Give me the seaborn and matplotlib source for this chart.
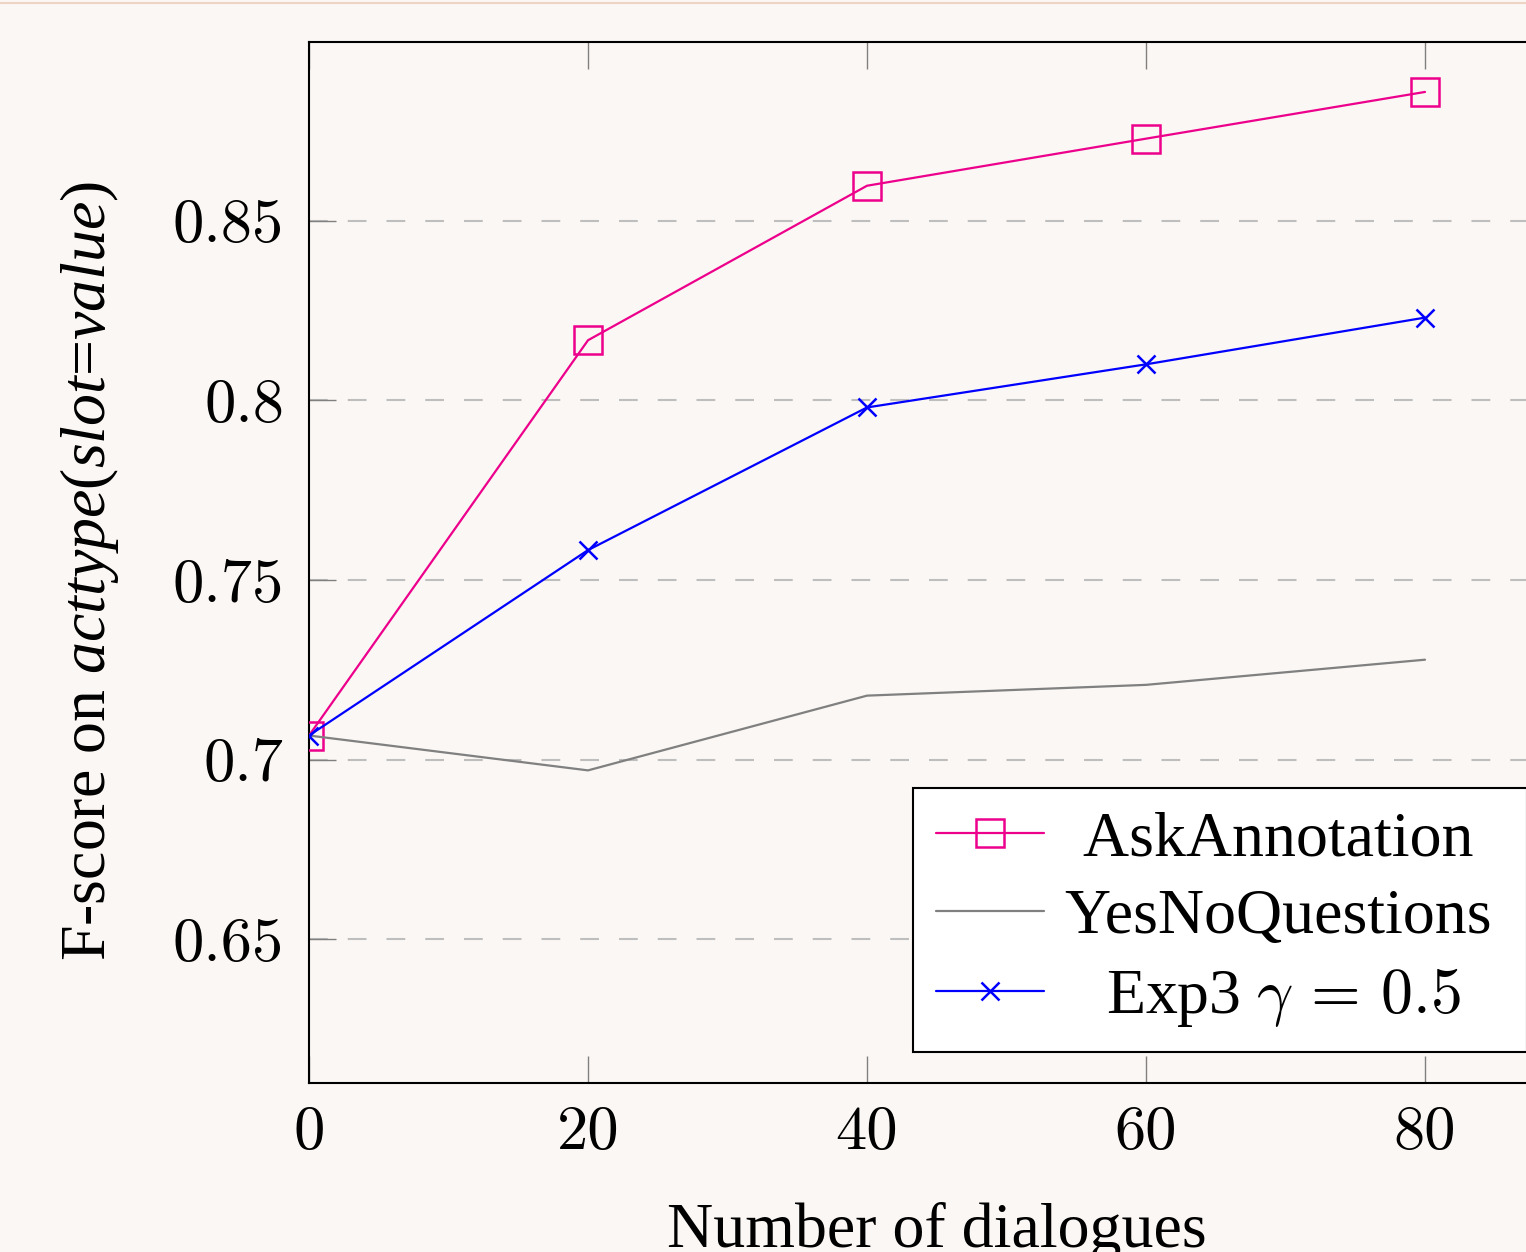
import numpy as np
import pandas as pd
import seaborn as sns
import matplotlib.pyplot as plt
from matplotlib.lines import Line2D
from matplotlib.ticker import FuncFormatter

# data
dialogues = [0, 20, 40, 60, 80]
ask_annotation = [0.7067, 0.8167, 0.8597, 0.8728, 0.8858]
yes_no_questions = [0.7067, 0.6970, 0.7178, 0.7208, 0.7278]
exp3 = [0.7067, 0.7583, 0.7980, 0.8100, 0.8230]

x_ticks = [0, 20, 40, 60, 80]
y_ticks = [0.65, 0.7, 0.75, 0.8, 0.85]

series_names = ["AskAnnotation", "YesNoQuestions", r"Exp3 $\gamma\,=\,0.5$"]
series_values = [ask_annotation, yes_no_questions, exp3]
series_colors = ["#EC008C", "#808080", "#0000FF"]
series_markers = ["s", None, "x"]

BG = "#FBF7F4"

sns.set_style("ticks")
plt.rcParams["font.family"] = ["Liberation Serif"]
plt.rcParams["mathtext.fontset"] = "custom"
plt.rcParams["mathtext.rm"] = "Liberation Serif"
plt.rcParams["mathtext.it"] = "Liberation Serif:italic"
plt.rcParams["axes.unicode_minus"] = False
for key in ["text.color", "axes.labelcolor", "xtick.labelcolor", "ytick.labelcolor"]:
    plt.rcParams[key] = "black"

fig = plt.figure(figsize=(15.26, 12.52), dpi=100, facecolor=BG)
ax = fig.add_axes([309 / 1526, 1 - 1083 / 1252, 1255.5 / 1526, 1041 / 1252])
ax.set_facecolor(BG)

for name, vals, col, mk in zip(series_names, series_values, series_colors, series_markers):
    df = pd.DataFrame({"x": dialogues, "y": vals})
    kw = {}
    if mk == "s":
        kw = dict(marker="s", markersize=19.5, markerfacecolor="none",
                  markeredgecolor=col, markeredgewidth=1.8)
    elif mk == "x":
        kw = dict(marker="x", markersize=13.5, markeredgewidth=1.8, markeredgecolor=col)
    # trailing thin space gives the legend a bit more room on the right
    sns.lineplot(data=df, x="x", y="y", ax=ax, color=col, linewidth=1.6,
                 label=name + "\u2009", zorder=3, **kw)

ax.set_xlim(0, 90)
ax.set_ylim(0.61, 0.8997)
ax.set_xticks(x_ticks)
ax.set_yticks(y_ticks)
ax.xaxis.set_major_formatter(FuncFormatter(lambda v, p: f"{v:g}"))
ax.yaxis.set_major_formatter(FuncFormatter(lambda v, p: f"{v:g}"))
ax.tick_params(axis="both", direction="in", length=19.5, width=1.0,
               color="#808080", labelsize=45, top=True, right=True)
ax.tick_params(axis="y", pad=18)
ax.tick_params(axis="x", pad=16)
for lab in ax.get_xticklabels() + ax.get_yticklabels():
    lab.set_fontfamily("cmr10")

ax.yaxis.grid(True, color="#BEBEBE", linewidth=1.5, linestyle=(0, (9, 9.6)))
ax.xaxis.grid(False)
for sp in ax.spines.values():
    sp.set_color("black")
    sp.set_linewidth(1.5)

ax.set_xlabel("Number of dialogues", fontsize=46, labelpad=30)
ax.set_ylabel(r"F-score on $\mathit{acttype(slot}$=$\mathit{value)}$", fontsize=46, labelpad=37)
ax.yaxis.label.set_y(0.5 - 8 / 1041)

leg = ax.legend(loc="lower right", bbox_to_anchor=(0.97, 0.03), borderaxespad=0,
                fontsize=46, frameon=True, fancybox=False, framealpha=1,
                facecolor="white", edgecolor="black", handlelength=1.7,
                handletextpad=0.33, labelspacing=0.3, borderpad=0.35)
leg.get_frame().set_linewidth(1.5)
for t in leg.get_texts():
    t.set_math_fontfamily("cm")

# center legend labels in their column like pgfplots does
fig.canvas.draw()
texts = leg.get_texts()
widths = [t.get_window_extent().width for t in texts]
wmax = max(widths)
for t, w in zip(texts, widths):
    t.set_x((wmax - w) / 2)

fig.add_artist(Line2D([0, 1], [1 - 2.5 / 1252, 1 - 2.5 / 1252], transform=fig.transFigure,
                      color="#EED4C4", linewidth=1.5))

fig.savefig("out.png", dpi=100, facecolor=BG)
